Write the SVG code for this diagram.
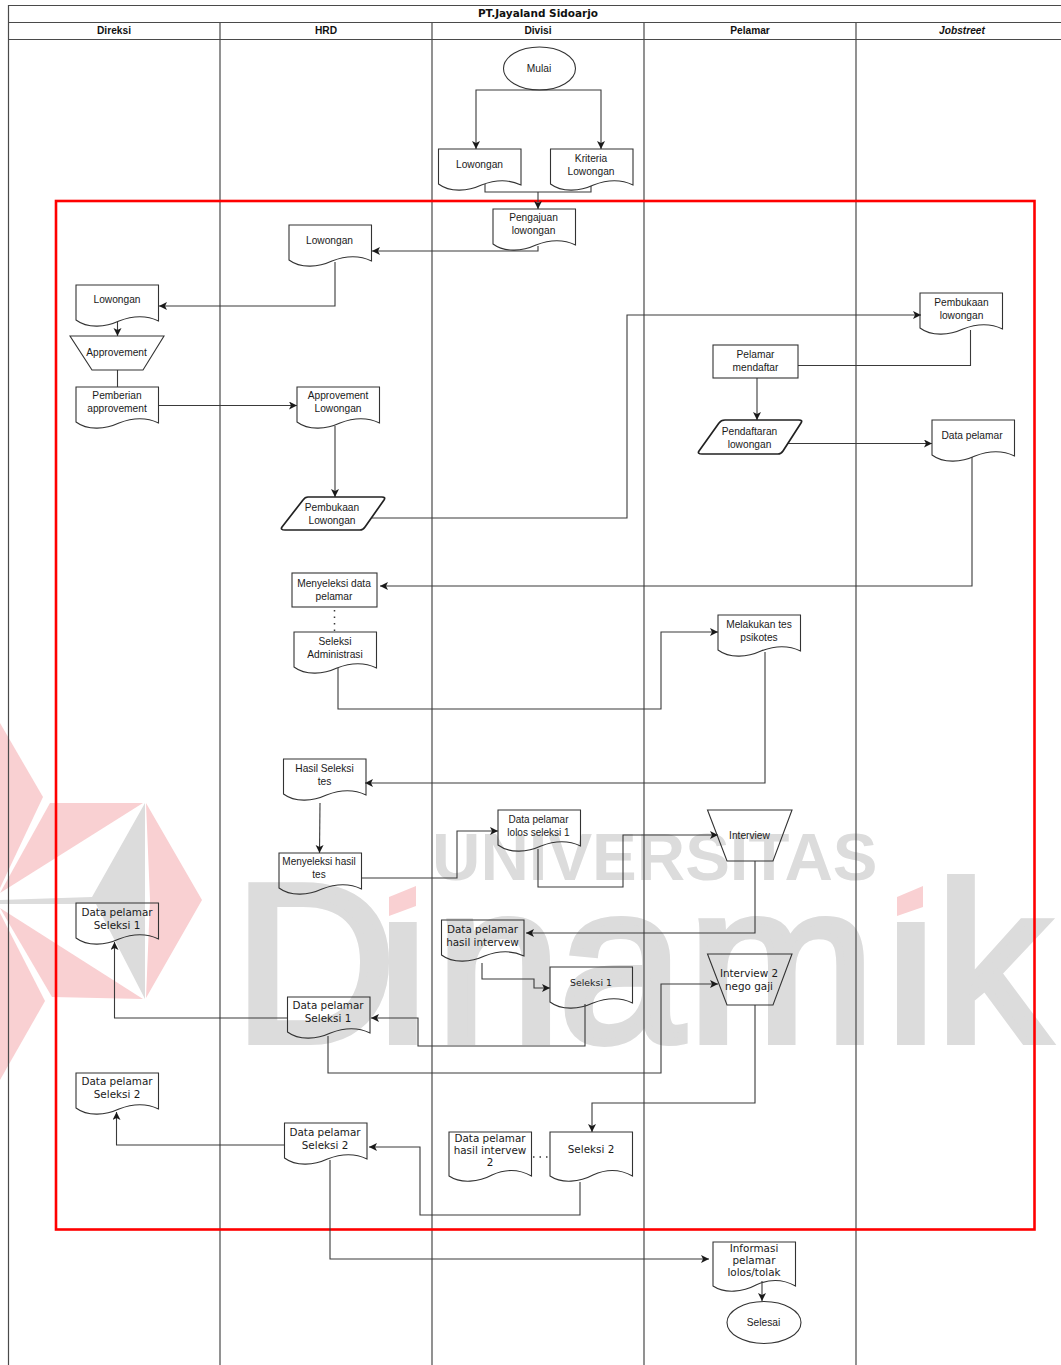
<svg xmlns="http://www.w3.org/2000/svg" xmlns:xlink="http://www.w3.org/1999/xlink" width="1061" height="1365" viewBox="0 0 1061 1365">
<style>
text{font-family:"Liberation Sans",Arial,sans-serif;font-size:10.2px;fill:#1a1a1a;text-anchor:middle}
.dv{font-family:"DejaVu Sans",sans-serif;font-size:10.4px}
.hd{font-weight:bold;font-size:10.2px;fill:#111}
.s{fill:none;stroke:#333;stroke-width:1.1}
.b{fill:none;stroke:#222;stroke-width:1.7;stroke-linejoin:round}
.c{fill:none;stroke:#3a3a3a;stroke-width:1.1;marker-end:url(#a)}
.n{fill:none;stroke:#3a3a3a;stroke-width:1.1}
.l{stroke:#4a4a4a;stroke-width:1.2;fill:none}
.wm{fill:#dcdcdc;text-anchor:start;font-weight:bold}
.wp{fill:#f9d0d2}.wg{fill:#dcdcdc}
</style>
<defs>
<marker id="a" markerUnits="userSpaceOnUse" markerWidth="9" markerHeight="9" refX="8" refY="4" orient="auto"><path d="M0 0L8 4L0 8L2 4Z" fill="#1a1a1a"/></marker>
<path id="d42" d="M0 0H82.500V36C70 30 56 31 43 36C30 42 12 44 0 35Z"/>
<path id="d50" d="M0 0H82.500V44C70 37 56 37 43 43C30 50 12 52 0 44Z"/>
<clipPath id="wc"><path d="M0 0H385V1365H0ZM385 922H432V1365H385ZM432 0H893V1365H432ZM893 922H940V1365H893ZM940 0H1061V1365H940Z"/></clipPath>
</defs>
<rect width="1061" height="1365" fill="#fff"/>
<g id="watermark">
<polygon class="wp" points="0,723 43,797 0,888"/>
<polygon class="wp" points="0,893 50,803 143,803"/>
<polygon class="wp" points="0,908 52,997 143,999"/>
<polygon class="wp" points="0,913 45,1001 0,1080"/>
<polygon class="wp" points="146,803 202,900 146,998 150,900"/>
<polygon class="wg" points="145,803 92,897 0,900 0,904 96,904 145,999"/>
<text class="wm" x="432" y="880" style="font-size:67px">UNIVERSITAS</text>
<text class="wm" clip-path="url(#wc)" y="1041" x="234 378 436 559 688 886 936" style="font-size:224px;font-weight:normal;stroke:#dcdcdc;stroke-width:8">Dinamik</text>
<polygon class="wp" points="389,897 416,886 416,906 389,916"/>
<polygon class="wp" points="897,897 923,886 923,907 897,916"/>
</g>
<g id="swimlane">
<path class="l" d="M1061 5.500H8.500V1365M8.500 22.500H1061M8.500 39.500H1061" stroke="#222"/>
<path class="l" d="M220 22.500V1365M432 22.500V1365M644 22.500V1365M856 22.500V1365"/>
<text class="hd" x="538" y="17" style="font-family:'DejaVu Sans',sans-serif;font-size:10.500px">PT.Jayaland Sidoarjo</text>
<text class="hd" x="114" y="34">Direksi</text>
<text class="hd" x="326" y="34">HRD</text>
<text class="hd" x="538" y="34">Divisi</text>
<text class="hd" x="750" y="34">Pelamar</text>
<text class="hd" x="962" y="34" font-style="italic">Jobstreet</text>
</g>
<rect id="highlight" x="56" y="201" width="978.500" height="1028.500" fill="none" stroke="#f00" stroke-width="2.600"/>
<g id="connectors">
<path class="c" d="M539 90H476V149"/>
<path class="c" d="M539 90H601V149"/>
<path class="n" d="M485 184V192H591V186"/>
<path class="c" d="M538 192V209"/>
<path class="c" d="M538 246V251H372"/>
<path class="c" d="M335 262V306H159"/>
<path class="c" d="M117.500 322V336"/>
<path class="n" d="M117.500 370V387"/>
<path class="c" d="M159 405.500H297"/>
<path class="c" d="M335 426V497"/>
<path class="c" d="M372 518H627V315H921"/>
<path class="n" d="M798 365.500H970.500V330"/>
<path class="c" d="M757 378V420"/>
<path class="c" d="M788 443.500H932"/>
<path class="c" d="M972 457V586H380"/>
<path class="n" d="M334.500 610V632" stroke-dasharray="1.500 5" style="stroke-width:1.500"/>
<path class="c" d="M338 668V709H661V632H718"/>
<path class="c" d="M765 652V783H365"/>
<path class="c" d="M320 803L319.500 853"/>
<path class="c" d="M361 878H457V831H498"/>
<path class="c" d="M538 849V887H623V835H718"/>
<path class="c" d="M755 861V933H526"/>
<path class="c" d="M482 963V979H534V988H550"/>
<path class="c" d="M585 1004V1046H418V1018H371"/>
<path class="c" d="M288 1018H114.500V942"/>
<path class="c" d="M328 1036V1073H661V984H718"/>
<path class="c" d="M755 1005V1103H592V1132"/>
<path class="n" d="M533 1157H548" stroke-dasharray="1.500 5" style="stroke-width:1.500"/>
<path class="c" d="M580 1182V1215H420V1147H369"/>
<path class="c" d="M285 1145H116.500V1112"/>
<path class="c" d="M330 1160V1259H709"/>
<path class="c" d="M762 1281V1301"/>
</g>
<g id="mulai"><ellipse class="s" cx="539.500" cy="68.500" rx="36" ry="21.500"/><text x="539" y="72">Mulai</text></g>
<g id="lowongan-divisi"><use href="#d42" class="s" x="438.500" y="149"/><text x="479.500" y="168">Lowongan</text></g>
<g id="kriteria"><use href="#d42" class="s" x="550.500" y="149"/><text x="591" y="162">Kriteria</text><text x="591" y="175">Lowongan</text></g>
<g id="pengajuan"><use href="#d42" class="s" x="493" y="209"/><text x="533.500" y="221">Pengajuan</text><text x="533.500" y="234">lowongan</text></g>
<g id="lowongan-hrd"><use href="#d42" class="s" x="289" y="225"/><text x="329.500" y="244">Lowongan</text></g>
<g id="lowongan-direksi"><use href="#d42" class="s" x="76" y="285"/><text x="117" y="303">Lowongan</text></g>
<g id="approvement"><polygon class="s" points="70,336 164,336 143,370 92,370"/><text x="116.500" y="356">Approvement</text></g>
<g id="pemberian"><use href="#d42" class="s" x="76" y="387"/><text x="117" y="399">Pemberian</text><text x="117" y="412">approvement</text></g>
<g id="approvement-lowongan"><use href="#d42" class="s" x="297" y="387"/><text x="338" y="399">Approvement</text><text x="338" y="412">Lowongan</text></g>
<g id="pembukaan-lowongan"><path class="b" d="M308 497H382Q386 497 384 500L365 527Q363 530 360 530H285Q280 530 282 527L303 500Q305 497 308 497Z"/><text x="332" y="511">Pembukaan</text><text x="332" y="524">Lowongan</text></g>
<g id="pembukaan-jobstreet"><use href="#d42" class="s" x="920" y="293"/><text x="961.500" y="306">Pembukaan</text><text x="961.500" y="319">lowongan</text></g>
<g id="pelamar-mendaftar"><rect class="s" x="713" y="345" width="85" height="33"/><text x="755.500" y="358">Pelamar</text><text x="755.500" y="371">mendaftar</text></g>
<g id="pendaftaran"><path class="b" d="M725 420H799Q803 420 801 423L783 451Q781 454 778 454H702Q697 454 699 451L719 423Q721 420 725 420Z"/><text x="749.500" y="435">Pendaftaran</text><text x="749.500" y="448">lowongan</text></g>
<g id="data-pelamar"><use href="#d42" class="s" x="932" y="420"/><text x="972" y="439">Data pelamar</text></g>
<g id="menyeleksi-data"><rect class="s" x="292" y="573" width="85" height="34"/><text x="334" y="587">Menyeleksi data</text><text x="334" y="600">pelamar</text></g>
<g id="seleksi-administrasi"><use href="#d42" class="s" x="294" y="632"/><text x="335" y="645">Seleksi</text><text x="335" y="658">Administrasi</text></g>
<g id="melakukan-tes"><use href="#d42" class="s" x="718" y="615"/><text x="759" y="628">Melakukan tes</text><text x="759" y="641">psikotes</text></g>
<g id="hasil-seleksi"><use href="#d42" class="s" x="283.500" y="759"/><text x="324.500" y="772">Hasil Seleksi</text><text x="324.500" y="785">tes</text></g>
<g id="menyeleksi-hasil"><use href="#d42" class="s" x="279" y="853"/><text x="319" y="865" style="font-size:10px">Menyeleksi hasil</text><text x="319" y="878" style="font-size:10px">tes</text></g>
<g id="data-lolos"><use href="#d42" class="s" x="498" y="810"/><text x="538.500" y="823" style="font-size:10px">Data pelamar</text><text x="538.500" y="836" style="font-size:10px">lolos seleksi 1</text></g>
<g id="interview"><polygon class="s" points="707.500,810 792,810 773,861 727,861"/><text x="749.500" y="839">Interview</text></g>
<g id="data-hasil-interview"><use href="#d42" class="s" x="441.500" y="920"/><text class="dv" x="482.500" y="933">Data pelamar</text><text class="dv" x="482.500" y="946">hasil intervew</text></g>
<g id="seleksi-1"><use href="#d42" class="s" x="550" y="967"/><text class="dv" x="591" y="986" style="font-size:9.400px">Seleksi 1</text></g>
<g id="interview-2"><polygon class="s" points="707.500,954 792,954 773,1005 727,1005"/><text class="dv" x="749" y="977">Interview 2</text><text class="dv" x="749" y="990">nego gaji</text></g>
<g id="data-seleksi-1-hrd"><use href="#d42" class="s" x="287.500" y="997"/><text class="dv" x="328" y="1009">Data pelamar</text><text class="dv" x="328" y="1022">Seleksi 1</text></g>
<g id="data-seleksi-1-direksi"><use href="#d42" class="s" x="76" y="903"/><text class="dv" x="117" y="916">Data pelamar</text><text class="dv" x="117" y="929">Seleksi 1</text></g>
<g id="data-seleksi-2-direksi"><use href="#d42" class="s" x="76" y="1073"/><text class="dv" x="117" y="1085">Data pelamar</text><text class="dv" x="117" y="1098">Seleksi 2</text></g>
<g id="data-seleksi-2-hrd"><use href="#d42" class="s" x="284.500" y="1123"/><text class="dv" x="325" y="1136">Data pelamar</text><text class="dv" x="325" y="1149">Seleksi 2</text></g>
<g id="data-hasil-interview-2"><use href="#d50" class="s" x="449" y="1132"/><text class="dv" x="490" y="1142">Data pelamar</text><text class="dv" x="490" y="1154">hasil intervew</text><text class="dv" x="490" y="1166">2</text></g>
<g id="seleksi-2"><use href="#d50" class="s" x="550" y="1132"/><text class="dv" x="591" y="1153">Seleksi 2</text></g>
<g id="informasi"><use href="#d50" class="s" x="713" y="1242"/><text class="dv" x="754" y="1252">Informasi</text><text class="dv" x="754" y="1264">pelamar</text><text class="dv" x="754" y="1276">lolos/tolak</text></g>
<g id="selesai"><ellipse class="s" cx="764" cy="1322.500" rx="37" ry="21"/><text x="763.500" y="1326">Selesai</text></g>
</svg>
